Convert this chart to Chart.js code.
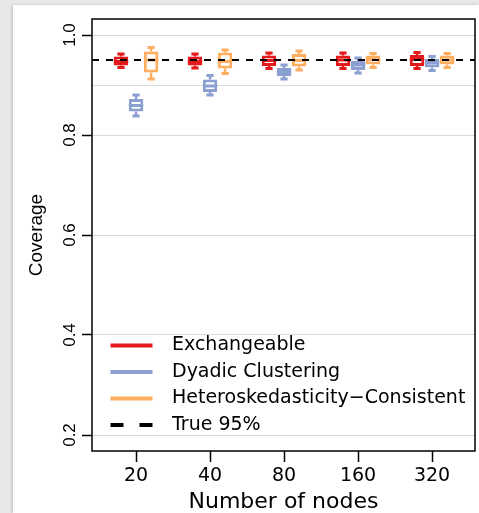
<!DOCTYPE html>
<html>
<head>
<meta charset="utf-8">
<script src="https://cdn.jsdelivr.net/npm/chart.js@4.4.1/dist/chart.umd.min.js"></script>
<style>
  html, body { margin: 0; padding: 0; }
  body { width: 479px; height: 513px; background: #e8e8e8; overflow: hidden; position: relative; }
  #panel { position: absolute; left: 13px; top: 5px; width: 466px; height: 508px; background: #fff; box-shadow: -1px 0 3px rgba(0,0,0,0.18); }
  canvas { display: block; }
</style>
</head>
<body>
<div id="panel"><canvas id="coverage" width="466" height="508"></canvas></div>
<script>
const nodeCounts = ['20', '40', '80', '160', '320'];

// each entry: [lower whisker, Q1, median, Q3, upper whisker]
const exchangeable = [
  [0.935, 0.939, 0.947, 0.957, 0.962],
  [0.934, 0.939, 0.947, 0.957, 0.962],
  [0.933, 0.938, 0.949, 0.959, 0.964],
  [0.933, 0.938, 0.950, 0.959, 0.964],
  [0.933, 0.938, 0.951, 0.960, 0.965]
];
const dyadic = [
  [0.838, 0.847, 0.859, 0.872, 0.880],
  [0.880, 0.886, 0.898, 0.911, 0.919],
  [0.912, 0.918, 0.927, 0.934, 0.940],
  [0.924, 0.930, 0.940, 0.948, 0.954],
  [0.929, 0.935, 0.944, 0.952, 0.957]
];
const heteroskedastic = [
  [0.912, 0.925, 0.950, 0.967, 0.975],
  [0.923, 0.933, 0.947, 0.965, 0.970],
  [0.930, 0.937, 0.949, 0.962, 0.968],
  [0.935, 0.941, 0.951, 0.959, 0.963],
  [0.935, 0.941, 0.950, 0.959, 0.963]
];
const trueLevel = 0.95;

const yGrid = [0.2, 0.4, 0.6, 0.8, 0.9, 1.0];
const yLabelled = [0.2, 0.4, 0.6, 0.8, 1.0];
const xMin = 0.405, xMax = 5.58;
const yMin = 0.168, yMax = 1.032;

const RED = '#e31a1c';
const BLUE = '#8b9fd1';
const ORANGE = '#fdae61';
const SANS = "'DejaVu Sans', sans-serif";
const NARROW = "'Liberation Sans', Arial, sans-serif";

function boxDataset(label, color, stats) {
  return {
    type: 'bar',
    label: label,
    data: stats.map((s, i) => ({ x: i + 1, y: [s[1], s[3]] })),
    stats: stats,
    backgroundColor: '#ffffff',
    borderColor: color,
    borderWidth: 3,
    borderSkipped: false,
    categoryPercentage: 0.61,
    barPercentage: 0.96,
    legendDash: [0, 11, 42, 300]
  };
}

// whiskers, caps and median for each box, drawn right after its dataset
const whiskerPlugin = {
  id: 'whiskers',
  afterDatasetDraw(chart, args) {
    const ds = chart.data.datasets[args.index];
    if (!ds.stats) return;
    const y = chart.scales.y;
    const ctx = chart.ctx;
    ctx.save();
    ctx.strokeStyle = ds.borderColor;
    ctx.lineCap = 'butt';
    args.meta.data.forEach((bar, i) => {
      const [lo, q1, med, q3, hi] = ds.stats[i];
      const half = bar.width / 2;
      ctx.lineWidth = 2.5;
      ctx.beginPath();
      ctx.moveTo(bar.x, y.getPixelForValue(q3));
      ctx.lineTo(bar.x, y.getPixelForValue(hi));
      ctx.moveTo(bar.x, y.getPixelForValue(q1));
      ctx.lineTo(bar.x, y.getPixelForValue(lo));
      ctx.stroke();
      ctx.lineWidth = 3;
      ctx.beginPath();
      ctx.moveTo(bar.x - half / 2, y.getPixelForValue(hi));
      ctx.lineTo(bar.x + half / 2, y.getPixelForValue(hi));
      ctx.moveTo(bar.x - half / 2, y.getPixelForValue(lo));
      ctx.lineTo(bar.x + half / 2, y.getPixelForValue(lo));
      ctx.moveTo(bar.x - half, y.getPixelForValue(med));
      ctx.lineTo(bar.x + half, y.getPixelForValue(med));
      ctx.stroke();
    });
    ctx.restore();
  }
};

// box around the plot region, legend pushed to the lower left
const framePlugin = {
  id: 'frame',
  afterLayout(chart) {
    const lg = chart.legend;
    if (lg) {
      lg.top = chart.chartArea.top;
      lg.bottom = chart.chartArea.bottom - 9;
    }
  },
  beforeDatasetsDraw(chart) {
    const { ctx, chartArea: a } = chart;
    ctx.save();
    ctx.strokeStyle = '#000';
    ctx.lineWidth = 1.5;
    ctx.strokeRect(a.left, a.top, a.right - a.left, a.bottom - a.top);
    ctx.restore();
  }
};

new Chart(document.getElementById('coverage'), {
  type: 'bar',
  data: {
    datasets: [
      boxDataset('Exchangeable', RED, exchangeable),
      boxDataset('Dyadic Clustering', BLUE, dyadic),
      boxDataset('Heteroskedasticity\u2212Consistent', ORANGE, heteroskedastic),
      {
        type: 'line',
        label: 'True 95%',
        data: [{ x: xMin, y: trueLevel }, { x: xMax, y: trueLevel }],
        borderColor: '#000',
        borderWidth: 2,
        borderDash: [7, 7],
        pointRadius: 0,
        fill: false,
        order: -1,
        legendDash: [0, 11, 13, 16, 13, 300]
      }
    ]
  },
  options: {
    responsive: false,
    animation: false,
    devicePixelRatio: 1,
    layout: { padding: { left: 0, top: 14, right: 4, bottom: 0 } },
    scales: {
      x: {
        type: 'linear',
        min: xMin,
        max: xMax,
        offset: false,
        afterBuildTicks: (s) => { s.ticks = nodeCounts.map((_, i) => ({ value: i + 1 })); },
        afterFit: (s) => { s.height = 62; },
        ticks: {
          callback: (v, i) => nodeCounts[i],
          color: '#000',
          font: { family: SANS, size: 19 },
          padding: 3,
          autoSkip: false,
          maxRotation: 0
        },
        grid: { offset: false, drawOnChartArea: false, tickLength: 11, tickColor: '#000', tickWidth: 1.5 },
        border: { display: false },
        title: {
          display: true,
          text: 'Number of nodes',
          color: '#000',
          font: { family: SANS, size: 22, lineHeight: 1 },
          padding: { top: 0, bottom: 0 }
        }
      },
      y: {
        type: 'linear',
        min: yMin,
        max: yMax,
        afterBuildTicks: (s) => { s.ticks = yGrid.map((v) => ({ value: v })); },
        afterFit: (s) => { s.width = 79; },
        ticks: {
          callback: (v) => (yLabelled.includes(v) ? v.toFixed(1) : ''),
          minRotation: 90,
          maxRotation: 90,
          crossAlign: 'center',
          padding: 0,
          color: '#000',
          font: { family: NARROW, size: 17 },
          autoSkip: false
        },
        grid: {
          color: '#d9d9d9',
          lineWidth: 1,
          tickLength: 10,
          tickWidth: 1.5,
          tickColor: (c) => (c.tick && yLabelled.includes(c.tick.value) ? '#000' : 'rgba(0,0,0,0)')
        },
        border: { display: false },
        title: {
          display: true,
          text: 'Coverage',
          color: '#000',
          font: { family: NARROW, size: 19, lineHeight: 1 },
          padding: { top: 14, bottom: 0 }
        }
      }
    },
    plugins: {
      tooltip: { enabled: false },
      legend: {
        position: 'chartArea',
        align: 'end',
        labels: {
          boxWidth: 63,
          boxHeight: 0,
          padding: 7.5,
          color: '#000',
          font: { family: SANS, size: 19 },
          generateLabels: (chart) => chart.data.datasets.map((ds, i) => ({
            text: ds.label,
            fillStyle: 'rgba(0,0,0,0)',
            strokeStyle: ds.borderColor,
            lineWidth: 4,
            lineDash: ds.legendDash,
            lineCap: 'butt',
            hidden: false,
            datasetIndex: i,
            fontColor: '#000'
          }))
        }
      }
    }
  },
  plugins: [whiskerPlugin, framePlugin]
});
</script>
</body>
</html>
